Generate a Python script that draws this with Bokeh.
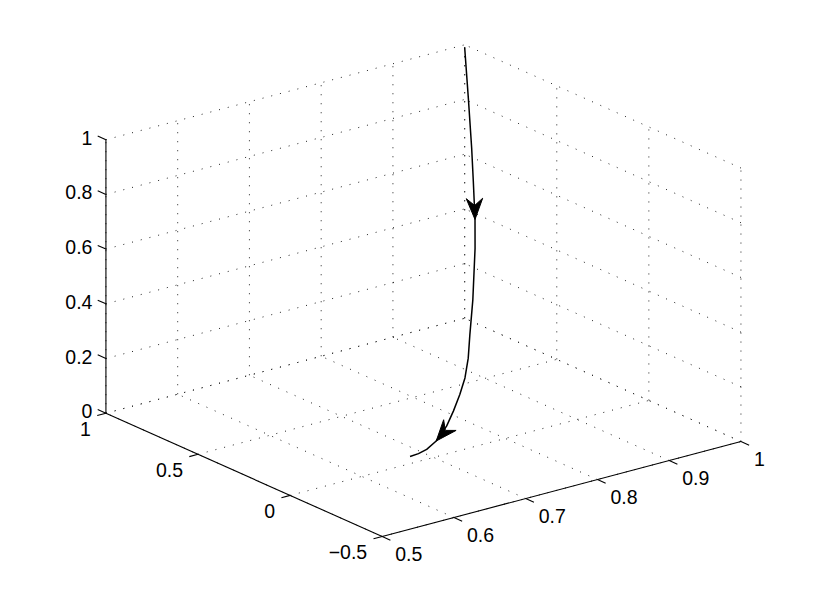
import math
from bokeh.plotting import figure
from bokeh.models import Range1d, ColumnDataSource
from bokeh.core.properties import value
from bokeh.embed import file_html
from bokeh.resources import INLINE

# ---- data (3-D trajectory) ----
curve_x = [1.000, 1.000, 1.000, 1.000, 0.999, 0.996, 0.958, 0.913, 0.882, 0.851,
           0.822, 0.792, 0.762, 0.728, 0.706, 0.692, 0.680]
curve_y = [1.000, 0.980, 0.962, 0.953, 0.940, 0.928, 0.792, 0.633, 0.521, 0.418,
           0.333, 0.251, 0.171, 0.095, 0.061, 0.051, 0.050]
curve_z = [0.990, 0.810, 0.633, 0.513, 0.380, 0.280, 0.160, 0.110, 0.080, 0.060,
           0.045, 0.030, 0.020, 0.012, 0.007, 0.004, 0.002]
arrow_idx = [4, 13]

x_ticks = [0.5, 0.6, 0.7, 0.8, 0.9, 1.0]
x_labels = ["0.5", "0.6", "0.7", "0.8", "0.9", "1"]
y_ticks = [-0.5, 0.0, 0.5, 1.0]
y_labels = ["\u22120.5", "0", "0.5", "1"]
z_ticks = [0.0, 0.2, 0.4, 0.6, 0.8, 1.0]
z_labels = ["0", "0.2", "0.4", "0.6", "0.8", "1"]

XLIM = (0.5, 1.0)
YLIM = (-0.5, 1.0)
ZLIM = (0.0, 1.0)

# ---- orthographic view (azimuth / elevation) ----
AZ = math.radians(37.6)
EL = math.radians(20.1)
S = 452.8      # horizontal box scale (px)
SZ = 273.5     # vertical box scale (px)
OX, OY = 381.7, 67.0   # screen position of corner (xmin, ymin, zmin)


def proj(x, y, z):
    X = (x - XLIM[0]) / (XLIM[1] - XLIM[0])
    Y = (y - YLIM[0]) / (YLIM[1] - YLIM[0])
    Z = (z - ZLIM[0]) / (ZLIM[1] - ZLIM[0])
    sx = OX + S * (math.cos(AZ) * X - math.sin(AZ) * Y)
    sy = OY + S * math.sin(EL) * (math.sin(AZ) * X + math.cos(AZ) * Y) + SZ * Z
    return sx, sy


def unit(dx, dy):
    n = math.hypot(dx, dy)
    return dx / n, dy / n


p = figure(width=801, height=587, x_range=Range1d(0, 801), y_range=Range1d(16, 603),
           output_backend="svg", toolbar_location=None, min_border=0)
p.axis.visible = False
p.grid.visible = False
p.outline_line_color = None
p.background_fill_color = "white"
p.border_fill_color = "white"

# ---- dotted grid on back walls and floor ----
gx, gy = [], []


def seg(a, b):
    pa, pb = proj(*a), proj(*b)
    gx.append([pa[0], pb[0]])
    gy.append([pa[1], pb[1]])


for t in x_ticks:
    seg((t, YLIM[1], ZLIM[0]), (t, YLIM[1], ZLIM[1]))      # wall y = ymax
    seg((t, YLIM[0], ZLIM[0]), (t, YLIM[1], ZLIM[0]))      # floor
for t in y_ticks:
    seg((XLIM[1], t, ZLIM[0]), (XLIM[1], t, ZLIM[1]))      # wall x = xmax
    seg((XLIM[0], t, ZLIM[0]), (XLIM[1], t, ZLIM[0]))      # floor
for t in z_ticks:
    seg((XLIM[0], YLIM[1], t), (XLIM[1], YLIM[1], t))
    seg((XLIM[1], YLIM[0], t), (XLIM[1], YLIM[1], t))

p.multi_line(xs=gx, ys=gy, line_color="#222222", line_width=1, line_dash="1 8")

# ---- axes ----
ax_x, ax_y = [], []
for a, b in [((XLIM[0], YLIM[0], ZLIM[0]), (XLIM[1], YLIM[0], ZLIM[0])),
             ((XLIM[0], YLIM[0], ZLIM[0]), (XLIM[0], YLIM[1], ZLIM[0])),
             ((XLIM[0], YLIM[1], ZLIM[0]), (XLIM[0], YLIM[1], ZLIM[1]))]:
    pa, pb = proj(*a), proj(*b)
    ax_x.append([pa[0], pb[0]])
    ax_y.append([pa[1], pb[1]])

# tick directions (screen units)
ox0, oy0 = proj(XLIM[0], YLIM[0], ZLIM[0])
xd = unit(*(v - w for v, w in zip(proj(XLIM[1], YLIM[0], ZLIM[0]), (ox0, oy0))))
yd = unit(*(v - w for v, w in zip(proj(XLIM[0], YLIM[1], ZLIM[0]), (ox0, oy0))))
TL = 9.0

lab = {"x": [], "y": [], "t": [], "align": []}
for t, s in zip(x_ticks, x_labels):
    px_, py_ = proj(t, YLIM[0], ZLIM[0])
    ax_x.append([px_, px_ - TL * yd[0]])
    ax_y.append([py_, py_ - TL * yd[1]])
    lab["x"].append(px_ + 13); lab["y"].append(py_ - 17.5); lab["t"].append(s); lab["align"].append("left")
for t, s in zip(y_ticks, y_labels):
    px_, py_ = proj(XLIM[0], t, ZLIM[0])
    ax_x.append([px_, px_ - TL * xd[0]])
    ax_y.append([py_, py_ - TL * xd[1]])
    lab["x"].append(px_ - 15); lab["y"].append(py_ - 15.5); lab["t"].append(s); lab["align"].append("right")
for t, s in zip(z_ticks, z_labels):
    px_, py_ = proj(XLIM[0], YLIM[1], t)
    ax_x.append([px_, px_ + TL * yd[0]])
    ax_y.append([py_, py_ + TL * yd[1]])
    lab["x"].append(px_ - 13.5); lab["y"].append(py_ + 2); lab["t"].append(s); lab["align"].append("right")

p.multi_line(xs=ax_x, ys=ax_y, line_color="black", line_width=1.1)

src = ColumnDataSource(lab)
p.text(x="x", y="y", text="t", text_align="align", text_baseline="middle",
       text_font=value("Liberation Sans"), text_font_size="19.5px",
       text_color="black", source=src)

# ---- trajectory ----
pts = [proj(a, b, c) for a, b, c in zip(curve_x, curve_y, curve_z)]
p.line([q[0] for q in pts], [q[1] for q in pts], line_color="black", line_width=1.5)

# ---- arrowheads ----
AL, AW, AN = 21.0, 8.2, 14.0
hx, hy = [], []
for i in arrow_idx:
    tip = pts[i]
    d = unit(pts[i + 1][0] - pts[i - 1][0], pts[i + 1][1] - pts[i - 1][1])
    n = (-d[1], d[0])
    bx, by = tip[0] - AL * d[0], tip[1] - AL * d[1]
    hx.append([tip[0], bx + AW * n[0], tip[0] - AN * d[0], bx - AW * n[0]])
    hy.append([tip[1], by + AW * n[1], tip[1] - AN * d[1], by - AW * n[1]])
p.patches(hx, hy, fill_color="black", line_color="black", line_width=1)

open("out.html", "w").write(file_html(p, INLINE))
